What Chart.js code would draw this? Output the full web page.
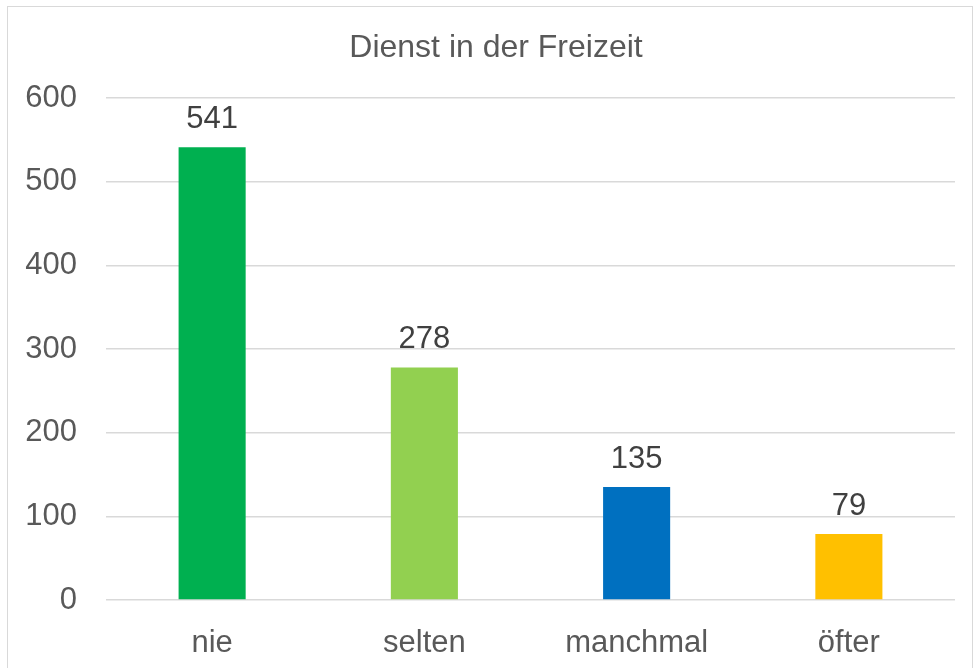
<!DOCTYPE html>
<html>
<head>
<meta charset="utf-8">
<script src="https://cdn.jsdelivr.net/npm/chart.js@4"></script>
<style>
  html, body { margin: 0; padding: 0; background: #fff; }
  #wrap { position: relative; width: 973px; height: 668px; overflow: hidden; }
  #frame { position: absolute; left: 7px; top: 6px; width: 964px; height: 700px; border: 1px solid #d9d9d9; }
  #c { position: absolute; left: 0; top: 0; }
</style>
</head>
<body>
<div id="wrap">
  <div id="frame"></div>
  <canvas id="c" width="973" height="668"></canvas>
</div>
<script>
// Daten
const categories = ["nie", "selten", "manchmal", "öfter"];
const values = [541, 278, 135, 79];
const barColors = ["#00b050", "#92d050", "#0070c0", "#ffc000"];
const yTicks = [0, 100, 200, 300, 400, 500, 600];
const titleText = "Dienst in der Freizeit";

const FONT = "'Liberation Sans', Arial, sans-serif";

// Titel: wie in Excel etwas links von der Mitte des Diagrammbereichs
const chartTitle = {
  id: "chartTitle",
  afterDraw(chart) {
    const ctx = chart.ctx;
    ctx.save();
    ctx.font = "32px " + FONT;
    ctx.fillStyle = "#595959";
    ctx.textAlign = "center";
    ctx.textBaseline = "alphabetic";
    ctx.fillText(titleText, 496, 57);
    ctx.restore();
  },
};

// Werte über den Balken schreiben
const valueLabels = {
  id: "valueLabels",
  afterDatasetsDraw(chart) {
    const ctx = chart.ctx;
    const meta = chart.getDatasetMeta(0);
    ctx.save();
    ctx.font = "31px " + FONT;
    ctx.fillStyle = "#404040";
    ctx.textAlign = "center";
    ctx.textBaseline = "alphabetic";
    meta.data.forEach((bar, i) => {
      ctx.fillText(String(values[i]), bar.x, bar.y - 19);
    });
    ctx.restore();
  },
};

new Chart(document.getElementById("c"), {
  type: "bar",
  data: {
    labels: categories,
    datasets: [{
      data: values,
      backgroundColor: barColors,
      categoryPercentage: 1,
      barPercentage: 0.316,
    }],
  },
  options: {
    responsive: false,
    animation: false,
    layout: { padding: { top: 98, right: 18, bottom: 0, left: 0 } },
    plugins: {
      legend: { display: false },
      tooltip: { enabled: false },
      title: { display: false },
    },
    scales: {
      x: {
        grid: { display: false },
        border: { display: false },
        ticks: { color: "#595959", font: { family: FONT, size: 31 }, padding: 17 },
        afterFit(scale) { scale.height = 68; },
      },
      y: {
        min: 0,
        max: 600,
        afterBuildTicks(scale) { scale.ticks = yTicks.map((v) => ({ value: v })); },
        grid: { color: "#d9d9d9", lineWidth: 1.5, drawTicks: false },
        border: { display: false },
        ticks: { color: "#595959", font: { family: FONT, size: 31 }, padding: 29 },
        afterFit(scale) { scale.width = 106; },
      },
    },
  },
  plugins: [valueLabels, chartTitle],
});
</script>
</body>
</html>
